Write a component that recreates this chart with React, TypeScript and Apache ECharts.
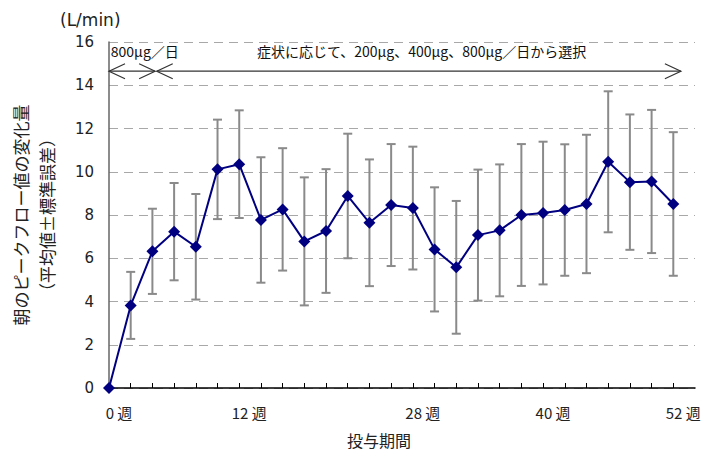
import React, { useEffect, useRef } from "react";
import * as echarts from "echarts";

// weeks of treatment
const weeks = [0, 2, 4, 6, 8, 10, 12, 14, 16, 18, 20, 22, 24, 26, 28, 30, 32, 34, 36, 38, 40, 42, 44, 46, 48, 50, 52];
// mean change in morning peak flow (L/min)
const means = [0, 3.82, 6.32, 7.23, 6.53, 10.11, 10.35, 7.77, 8.26, 6.78, 7.26, 8.88, 7.64, 8.46, 8.32, 6.41, 5.58, 7.07, 7.29, 8.0, 8.09, 8.23, 8.51, 10.46, 9.52, 9.55, 8.51];
// standard error
const ses = [0, 1.55, 1.97, 2.25, 2.44, 2.3, 2.49, 2.9, 2.83, 2.96, 2.86, 2.88, 2.93, 2.82, 2.84, 2.87, 3.07, 3.03, 3.05, 3.28, 3.3, 3.04, 3.2, 3.26, 3.13, 3.31, 3.32];

const xLabelWeeks = [0, 12, 28, 40, 52];
const yTicks = [0, 2, 4, 6, 8, 10, 12, 14, 16];

// dosing period arrows: [startWeek, endWeek, level]
const arrowStarts = [0, 4.4];
const arrowEnds = [4.25, 52.7];
const arrowLevel = 14.65;

// annotation texts: [centerWeek, level]
const noteTexts = ["800μg／日", "症状に応じて、200μg、400μg、800μg／日から選択"];
const noteX = [3.3, 28.8];
const noteLevel = 15.6;

const CJK = "'Noto Sans CJK JP', 'Noto Sans', sans-serif";

export default function App() {
  const ref = useRef<HTMLDivElement>(null);
  useEffect(() => {
    if (!ref.current) return;
    const chart = echarts.init(ref.current, undefined, { renderer: "svg" });
    const errData = weeks
      .map((w, i) => [w, means[i] - ses[i], means[i] + ses[i], ses[i]])
      .filter((d) => d[3] > 0);
    const arrowData = arrowStarts.map((s, i) => [s, arrowEnds[i], arrowLevel]);
    const noteData = noteX.map((x) => [x, noteLevel]);

    chart.setOption({
      animation: false,
      backgroundColor: "#fff",
      grid: { left: 109, right: 13, top: 42, bottom: 64, containLabel: false, outerBoundsMode: "none" },
      graphic: [
        {
          type: "text",
          left: 60,
          top: 11,
          style: { text: "(L/min)", fontSize: 17, fontFamily: "'DejaVu Sans', sans-serif", fill: "#222" },
        },
        {
          type: "text",
          left: 347,
          top: 432,
          style: { text: "投与期間", fontSize: 16, fontFamily: CJK, fill: "#222" },
        },
      ],
      xAxis: {
        type: "value",
        min: 0,
        max: 54,
        interval: 2,
        axisLine: { lineStyle: { color: "#000", width: 1.5 } },
        axisTick: { show: true, inside: true, length: 5, lineStyle: { color: "#000", width: 1 } },
        splitLine: { show: false },
        axisLabel: {
          showMinLabel: true,
          showMaxLabel: false,
          margin: 17,
          fontFamily: CJK,
          fontSize: 15,
          color: "#222",
          padding: [0, 0, 0, 20],
          formatter: (v: number) => (xLabelWeeks.indexOf(v) >= 0 ? `${v} 週` : ""),
        },
      },
      yAxis: {
        type: "value",
        min: yTicks[0],
        max: yTicks[yTicks.length - 1],
        interval: 2,
        name: "朝のピークフロー値の変化量\n（平均値±標準誤差）",
        nameLocation: "middle",
        nameRotate: 90,
        nameGap: 50,
        nameTextStyle: { fontFamily: CJK, fontSize: 17, lineHeight: 26, color: "#222" },
        axisLine: { show: true, lineStyle: { color: "#666", width: 1.5 } },
        axisTick: { show: false },
        axisLabel: {
          margin: 15,
          fontFamily: "'DejaVu Sans', sans-serif",
          fontSize: 15,
          color: "#222",
        },
        splitLine: { show: true, lineStyle: { color: "#a8a8a8", type: [9, 6], width: 1 } },
      },
      series: [
        {
          type: "custom",
          name: "SE",
          z: 2,
          clip: false,
          data: errData,
          renderItem: (params: any, api: any) => {
            const x = api.value(0);
            const lo = api.coord([x, api.value(1)]);
            const hi = api.coord([x, api.value(2)]);
            const cap = 4.5;
            const st = { stroke: "#8a8a8a", lineWidth: 2 };
            return {
              type: "group",
              children: [
                { type: "line", shape: { x1: lo[0], y1: lo[1], x2: hi[0], y2: hi[1] }, style: st },
                { type: "line", shape: { x1: lo[0] - cap, y1: lo[1], x2: lo[0] + cap, y2: lo[1] }, style: st },
                { type: "line", shape: { x1: hi[0] - cap, y1: hi[1], x2: hi[0] + cap, y2: hi[1] }, style: st },
              ],
            };
          },
        },
        {
          type: "line",
          name: "平均値",
          z: 5,
          clip: false,
          data: weeks.map((w, i) => [w, means[i]]),
          symbol: "diamond",
          symbolSize: 12,
          itemStyle: { color: "#000080" },
          lineStyle: { color: "#000080", width: 2 },
        },
        {
          type: "custom",
          name: "arrows",
          z: 4,
          clip: false,
          silent: true,
          data: arrowData,
          renderItem: (params: any, api: any) => {
            const s = api.coord([api.value(0), api.value(2)]);
            const e = api.coord([api.value(1), api.value(2)]);
            const h = 16;
            const w = 7.5;
            const st = { stroke: "#333", lineWidth: 1.2, fill: null };
            return {
              type: "group",
              children: [
                { type: "line", shape: { x1: s[0], y1: s[1], x2: e[0], y2: e[1] }, style: st },
                { type: "polyline", shape: { points: [[s[0] + h, s[1] - w], [s[0], s[1]], [s[0] + h, s[1] + w]] }, style: st },
                { type: "polyline", shape: { points: [[e[0] - h, e[1] - w], [e[0], e[1]], [e[0] - h, e[1] + w]] }, style: st },
              ],
            };
          },
        },
        {
          type: "custom",
          name: "notes",
          z: 4,
          clip: false,
          silent: true,
          data: noteData,
          renderItem: (params: any, api: any) => {
            const p = api.coord([api.value(0), api.value(1)]);
            return {
              type: "text",
              x: p[0],
              y: p[1],
              style: {
                text: noteTexts[params.dataIndex],
                fontFamily: CJK,
                fontSize: 14,
                fill: "#111",
                align: "center",
                verticalAlign: "middle",
              },
            };
          },
        },
      ],
    });
    return () => chart.dispose();
  }, []);
  return (
    <div
      ref={ref}
      style={{ position: "fixed", left: 0, top: 0, width: 708, height: 452, background: "#fff" }}
    />
  );
}
